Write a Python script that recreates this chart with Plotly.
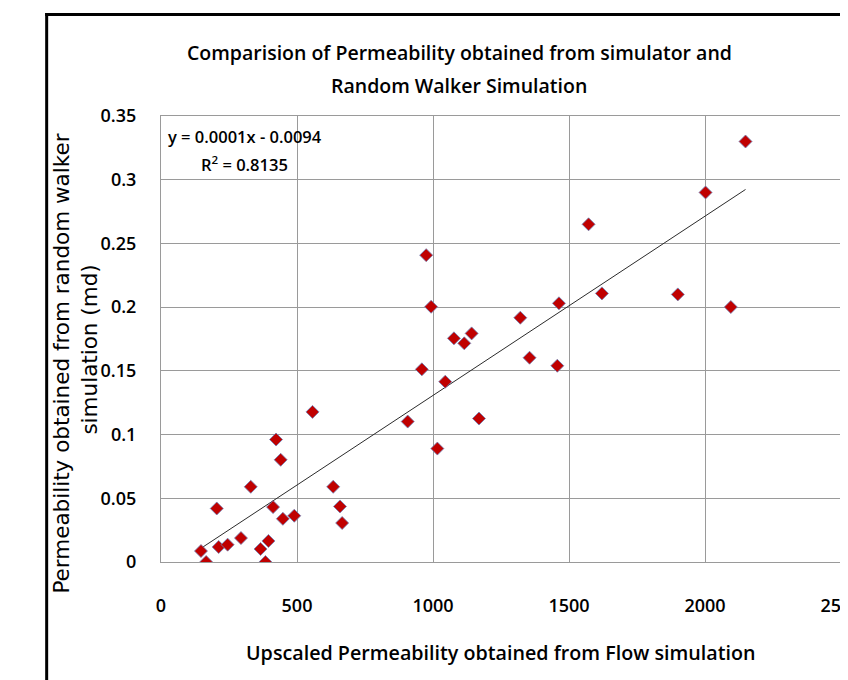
import numpy as np
import plotly.graph_objects as go

# Data
upscaled_perm = [147, 166, 205, 212, 245, 294, 330, 366, 384, 395, 412, 423, 440, 448, 490,
                 557, 633, 658, 666, 907, 959, 975, 993, 1016, 1045, 1077, 1115, 1142, 1169,
                 1321, 1355, 1457, 1463, 1572, 1621, 1900, 2002, 2095, 2149]
random_walker_perm = [0.0086, 0.0, 0.042, 0.0118, 0.0136, 0.0188, 0.059, 0.0102, 0.0, 0.0165,
                      0.0431, 0.0961, 0.0802, 0.0339, 0.0363, 0.1178, 0.059, 0.0436, 0.0306,
                      0.1102, 0.1512, 0.2408, 0.2003, 0.089, 0.1415, 0.1755, 0.1716, 0.1794,
                      0.1126, 0.1917, 0.1603, 0.154, 0.203, 0.265, 0.2108, 0.21, 0.29, 0.2001, 0.330]
x_ticks = [0, 500, 1000, 1500, 2000, 2500]
y_ticks = [0, 0.05, 0.1, 0.15, 0.2, 0.25, 0.3, 0.35]
equation_line1 = "y = 0.0001x - 0.0094"
equation_line2 = "R<sup>2</sup> = 0.8135"

# Linear trendline fitted from the data
slope, intercept = np.polyfit(upscaled_perm, random_walker_perm, 1)
trend_x = [min(upscaled_perm), max(upscaled_perm)]
trend_y = [slope * v + intercept for v in trend_x]

# The page body adds an 8px offset; figure is sized to fill the rest of the window
OFF = 8
W, H = 848 - OFF, 680 - OFF
plot_left, plot_right, plot_top, plot_bottom = 160.5, 841.5, 115.7, 562.3  # page pixels
L = plot_left - OFF
R = W - (plot_right - OFF)
T = plot_top - OFF
B = H - (plot_bottom - OFF)
pw, ph = W - L - R, H - T - B

def px(xp):  # page pixel -> paper x
    return (xp - plot_left) / pw

def py(yp):  # page pixel -> paper y
    return (plot_bottom - yp) / ph

fig = go.Figure()
fig.add_trace(go.Scatter(x=trend_x, y=trend_y, mode="lines",
                         line=dict(color="#2b2b2b", width=1), showlegend=False, hoverinfo="skip"))
fig.add_trace(go.Scatter(x=upscaled_perm, y=random_walker_perm, mode="markers",
                         marker=dict(symbol="diamond", size=10, color="#C00000",
                                     line=dict(color="#6f83b8", width=0.8)),
                         showlegend=False))

font_main = "Open Sans, Liberation Sans, sans-serif"
font_y = "'DejaVu Sans', Verdana, sans-serif"
grid = "#9a9a9a"
tfont = dict(size=18, family=font_main, weight=600)

fig.update_layout(
    width=W, height=H,
    margin=dict(l=L, r=R, t=T, b=B, autoexpand=False),
    paper_bgcolor="white", plot_bgcolor="white",
    font=dict(family=font_main, color="black"),
    xaxis=dict(range=[0, 2500], tickvals=x_ticks, showgrid=True, gridcolor=grid, gridwidth=1,
               showline=True, linecolor=grid, linewidth=1, mirror=True, zeroline=False,
               ticks="", tickfont=tfont, ticklabelstandoff=27, ticklabeloverflow="allow"),
    yaxis=dict(range=[0, 0.35], tickvals=y_ticks, showgrid=True, gridcolor=grid, gridwidth=1,
               showline=True, linecolor=grid, linewidth=1, mirror=True, zeroline=False,
               ticks="", tickfont=tfont, ticklabelstandoff=20),
    shapes=[
        dict(type="line", xref="paper", yref="paper", x0=px(44.5), x1=px(900), y0=py(14), y1=py(14),
             line=dict(color="black", width=3), layer="above"),
        dict(type="line", xref="paper", yref="paper", x0=px(46), x1=px(46), y0=py(12.5), y1=py(760),
             line=dict(color="black", width=3), layer="above"),
    ],
    annotations=[
        dict(text="Comparision of Permeability obtained from simulator and", xref="paper", yref="paper",
             x=px(459), y=py(52), xanchor="center", yanchor="middle", showarrow=False,
             font=dict(size=19.5, family=font_main, weight=600)),
        dict(text="Random Walker Simulation", xref="paper", yref="paper",
             x=px(459), y=py(85), xanchor="center", yanchor="middle", showarrow=False,
             font=dict(size=19.5, family=font_main, weight=600)),
        dict(text="Upscaled Permeability obtained from Flow simulation", xref="paper", yref="paper",
             x=px(500), y=py(653), xanchor="center", yanchor="middle", showarrow=False,
             font=dict(size=19.7, family=font_main, weight=600)),
        dict(text="Permeability obtained from random walker", xref="paper", yref="paper",
             x=px(61), y=py(364), xanchor="center", yanchor="middle", showarrow=False, textangle=-90,
             font=dict(size=21.5, family=font_y)),
        dict(text="simulation (md)", xref="paper", yref="paper",
             x=px(89), y=py(350), xanchor="center", yanchor="middle", showarrow=False, textangle=-90,
             font=dict(size=21.5, family=font_y)),
        dict(text=equation_line1, xref="paper", yref="paper",
             x=px(244.5), y=py(136.5), xanchor="center", yanchor="middle", showarrow=False,
             font=dict(size=16.5, family=font_main, weight=600)),
        dict(text=equation_line2, xref="paper", yref="paper",
             x=px(244.5), y=py(164), xanchor="center", yanchor="middle", showarrow=False,
             font=dict(size=16.5, family=font_main, weight=600)),
    ],
)

fig.write_html("out.html")
